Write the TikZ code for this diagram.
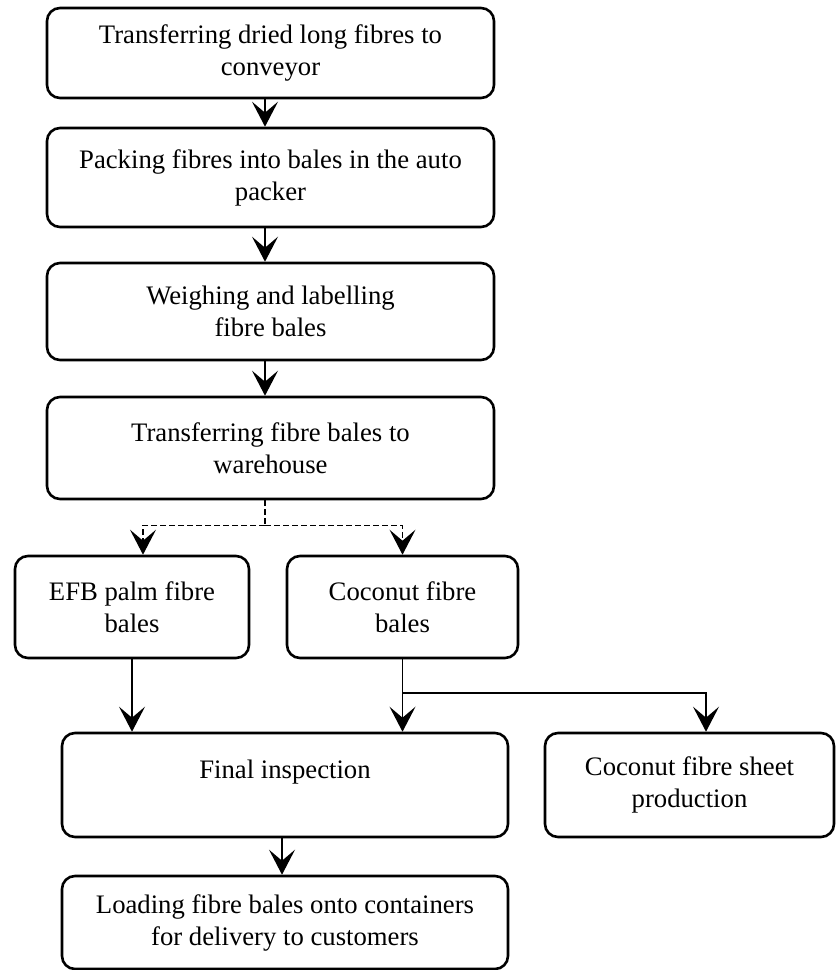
\documentclass[tikz,border=0pt]{standalone}
\usepackage{fontspec}
\setmainfont{Liberation Serif}
\usetikzlibrary{arrows.meta}
\begin{document}
\begin{tikzpicture}[x=1pt,y=-1pt,
  box/.style={draw, line width=2.6pt, rounded corners=13pt, align=center,
    inner sep=0pt, font=\fontsize{26.7}{32}\selectfont},
  flow/.style={line width=1.7pt, -{Stealth[length=25pt,width=26pt,inset=11pt]}},
  dashflow/.style={flow, line width=1.4pt, dash pattern=on 6pt off 3pt},
  dashline/.style={line width=1.4pt, dash pattern=on 6pt off 3pt}]
\useasboundingbox (0,0) rectangle (836,970);

% main processing chain
\node[box, minimum width=447pt, minimum height=90pt] (b1) at (270.5,53)
  {Transferring dried long fibres to\\conveyor};
\node[box, minimum width=447pt, minimum height=99pt] (b2) at (270.5,177.5)
  {Packing fibres into bales in the auto\\packer};
\node[box, minimum width=447pt, minimum height=97pt] (b3) at (270.5,311.5)
  {Weighing and labelling\\fibre bales};
\node[box, minimum width=447pt, minimum height=102pt] (b4) at (270.5,448)
  {Transferring fibre bales to\\warehouse};

% bale types
\node[box, minimum width=234pt, minimum height=102pt] (efb) at (132,607)
  {EFB palm fibre\\bales};
\node[box, minimum width=231pt, minimum height=102pt] (coco) at (402.5,607)
  {Coconut fibre\\bales};

% final stages
\node[box, minimum width=446pt, minimum height=104pt] (final) at (285,785)
  {Final inspection\\\mbox{}};
\node[box, minimum width=289pt, minimum height=104pt] (sheet) at (689.5,785)
  {Coconut fibre sheet\\production};
\node[box, minimum width=446pt, minimum height=93pt] (load) at (285,922.5)
  {Loading fibre bales onto containers\\for delivery to customers};

% connectors
\draw[flow] ([xshift=-5.5pt]b1.south) -- ([xshift=-5.5pt]b2.north);
\draw[flow] ([xshift=-5.5pt]b2.south) -- ([xshift=-5.5pt]b3.north);
\draw[flow] ([xshift=-5.5pt]b3.south) -- ([xshift=-5.5pt]b4.north);

\draw[dashline] ([xshift=-5.5pt]b4.south) -- ++(0,25) coordinate (split);
\draw[dashflow] (split) -| ([xshift=11pt]efb.north);
\draw[dashflow] (split) -| (coco.north);

\draw[flow] (efb.south) -- (efb.south |- final.north);
\draw[flow] (coco.south) -- (coco.south |- final.north);
\path (coco.south) ++(0,34) coordinate (branch);
\draw[flow] (branch) -| ([xshift=16.5pt]sheet.north);

\draw[flow] ([xshift=-3pt]final.south) -- ([xshift=-3pt]load.north);
\end{tikzpicture}
\end{document}
